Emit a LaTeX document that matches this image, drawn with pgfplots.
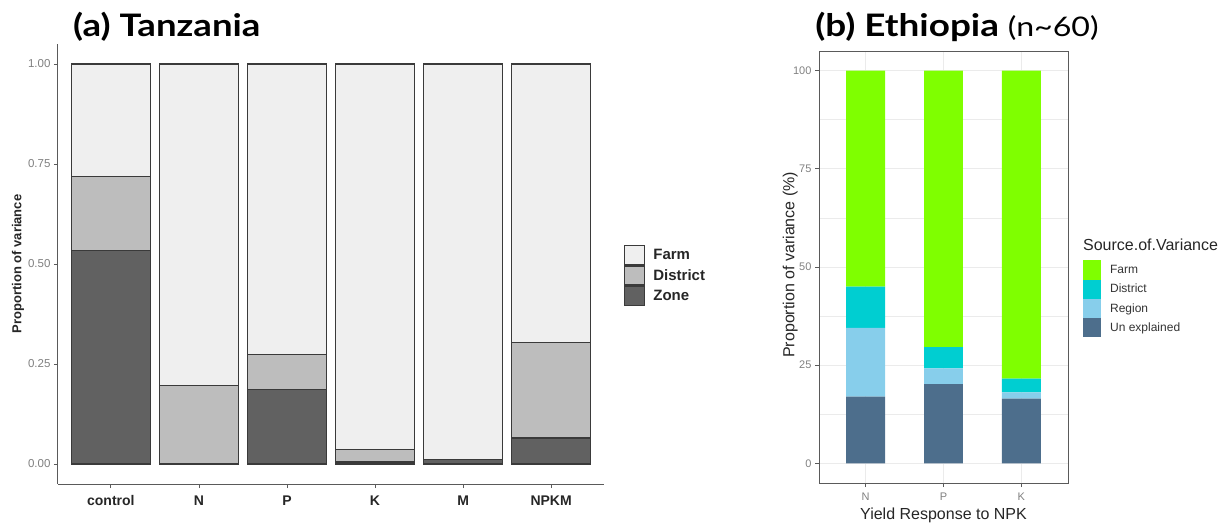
\documentclass[border=0pt]{standalone}
\usepackage{fontspec}
\setmainfont{Liberation Sans}
\newfontfamily\titlefont{Lato}
\usepackage{pgfplots}
\pgfplotsset{compat=1.18}
\definecolor{farmA}{HTML}{EFEFEF}
\definecolor{distA}{HTML}{BDBDBD}
\definecolor{zoneA}{HTML}{616161}
\definecolor{bordA}{HTML}{3A3A3A}
\definecolor{axisA}{HTML}{5A5A5A}
\definecolor{tickgray}{HTML}{808080}
\definecolor{farmB}{HTML}{7FFF00}
\definecolor{distB}{HTML}{00CED1}
\definecolor{regB}{HTML}{87CEEB}
\definecolor{unexB}{HTML}{4D6E8C}
\definecolor{gridB}{HTML}{EBEBEB}
\definecolor{frameB}{HTML}{5A5A5A}
\begin{document}
\begin{tikzpicture}
\path[use as bounding box] (0pt,0pt) rectangle (1225pt,523pt);
\node[anchor=base west, inner sep=0pt, xscale=1.18, font=\titlefont\fontsize{31}{34}\selectfont\bfseries] at (73pt,486pt) {(a) Tanzania};
\node[anchor=base west, inner sep=0pt, xscale=1.19, font=\titlefont\fontsize{31}{34}\selectfont\bfseries] at (815pt,486pt) {(b) Ethiopia {\mdseries\fontsize{27}{30}\selectfont (n\textasciitilde 60)}};

\begin{axis}[
  at={(58pt,39pt)}, anchor=south west, scale only axis,
  width=546pt, height=440pt,
  xmin=-0.6, xmax=5.6, ymin=-0.05, ymax=1.05,
  ybar stacked, bar width=0.9,
  axis x line*=bottom, axis y line*=left,
  axis line style={draw=axisA, line width=1pt, -},
  xtick={0,1,2,3,4,5}, xticklabels={control,N,P,K,M,NPKM},
  ytick={0,0.25,0.5,0.75,1}, yticklabels={0.00,0.25,0.50,0.75,1.00},
  tick align=outside, major tick length=4pt,
  tick style={draw=axisA, line width=0.8pt},
  xticklabel style={font=\fontsize{14}{16}\selectfont\bfseries, text=black!85, yshift=-4pt},
  yticklabel style={font=\fontsize{11.5}{13}\selectfont, text=tickgray},
  ylabel={Proportion of variance},
  every axis y label/.style={at={(axis description cs:-0.0733,0.5)}, rotate=90, anchor=center,
    font=\fontsize{13}{15}\selectfont\bfseries, text=black!85},
  legend image code/.code={\draw[#1] (0pt,-9.5pt) rectangle (20pt,9.5pt);},
  legend cell align=left,
  legend style={draw=none, fill=none, inner sep=0pt, row sep=0pt, column sep=8pt,
    at={(axis description cs:1.0366,0.543)}, anchor=north west,
    nodes={inner sep=0pt}, font=\fontsize{15}{17}\selectfont\bfseries, text=black!85},
  reverse legend,
]
\addplot[fill=zoneA, draw=bordA, line width=1.2pt] coordinates {(0,0.533) (1,0) (2,0.186) (3,0.005) (4,0.011) (5,0.065)};
\addlegendentry{Zone}
\addplot[fill=distA, draw=bordA, line width=1.2pt] coordinates {(0,0.185) (1,0.196) (2,0.088) (3,0.031) (4,0) (5,0.238)};
\addlegendentry{District}
\addplot[fill=farmA, draw=bordA, line width=1.2pt] coordinates {(0,0.282) (1,0.804) (2,0.726) (3,0.964) (4,0.989) (5,0.697)};
\addlegendentry{Farm}
\end{axis}

\begin{axis}[
  at={(819pt,40pt)}, anchor=south west, scale only axis,
  width=249pt, height=432pt,
  xmin=-0.6, xmax=2.6, ymin=-5, ymax=105,
  clip=false,
  ybar stacked, bar width=0.5,
  axis line style={draw=frameB, line width=0.8pt},
  xtick={0,1,2}, xticklabels={N,P,K},
  ytick={0,25,50,75,100}, yticklabels={0,25,50,75,100},
  minor ytick={12.5,37.5,62.5,87.5},
  xmajorgrids=true, ymajorgrids=true, yminorgrids=true,
  major grid style={draw=gridB, line width=1pt},
  minor grid style={draw=gridB, line width=0.5pt},
  tick align=outside, major tick length=4pt, minor tick length=0pt,
  xtick pos=bottom, ytick pos=left,
  tick style={draw=frameB, line width=0.8pt},
  xticklabel style={font=\fontsize{11}{13}\selectfont, text=tickgray, yshift=-2pt},
  yticklabel style={font=\fontsize{11}{13}\selectfont, text=tickgray},
  xlabel={Yield Response to NPK},
  every axis x label/.style={at={(axis description cs:0.5,-0.074)}, anchor=center,
    font=\fontsize{16}{18}\selectfont, text=black!85},
  ylabel={Proportion of variance (\%)},
  every axis y label/.style={at={(axis description cs:-0.116,0.505)}, rotate=90, anchor=center,
    font=\fontsize{16}{18}\selectfont, text=black!85},
  legend image code/.code={\fill[#1] (0pt,-9.65pt) rectangle (18pt,9.65pt);},
  legend cell align=left,
  legend style={draw=none, fill=none, inner sep=0pt, row sep=0pt, column sep=9pt,
    at={(axis description cs:1.06,0.516)}, anchor=north west,
    nodes={inner sep=0pt}, font=\fontsize{12}{14}\selectfont, text=black!80},
  reverse legend,
]
\addplot[fill=unexB, draw=none] coordinates {(0,17) (1,20.2) (2,16.5)};
\addlegendentry{Un explained}
\addplot[fill=regB, draw=none] coordinates {(0,17.5) (1,4.0) (2,1.6)};
\addlegendentry{Region}
\addplot[fill=distB, draw=none] coordinates {(0,10.5) (1,5.4) (2,3.5)};
\addlegendentry{District}
\addplot[fill=farmB, draw=none] coordinates {(0,55) (1,70.4) (2,78.4)};
\addlegendentry{Farm}
\node[anchor=west, font=\fontsize{16}{18}\selectfont, text=black!85, inner sep=0pt] at (axis description cs:1.06,0.551) {Source.of.Variance};
\end{axis}
\end{tikzpicture}
\end{document}
